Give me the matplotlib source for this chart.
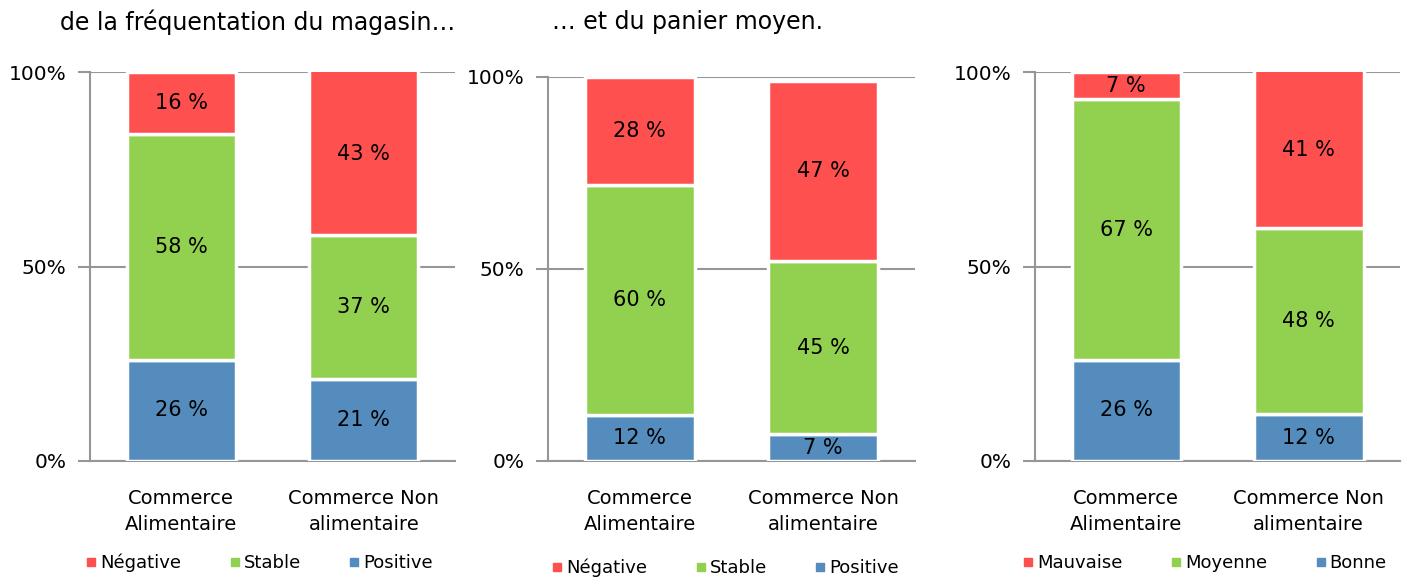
import matplotlib.pyplot as plt
import numpy as np
from matplotlib.lines import Line2D

categories = ["Commerce\nAlimentaire", "Commerce Non\nalimentaire"]

# panneau 1 : fréquentation
freq_pos = [26, 21]
freq_stable = [58, 37]
freq_neg = [16, 43]
# panneau 2 : panier moyen
panier_pos = [12, 7]
panier_stable = [60, 45]
panier_neg = [28, 47]
# panneau 3
bonne = [26, 12]
moyenne = [67, 48]
mauvaise = [7, 41]

labels_12 = ["Négative", "Stable", "Positive"]
labels_3 = ["Mauvaise", "Moyenne", "Bonne"]
titles = ["de la fréquentation du magasin…", "… et du panier moyen.", ""]

red = "#FF5050"
green = "#92D050"
blue = "#558CBE"
grey = "#969696"

W, H = 1414, 577
fig = plt.figure(figsize=(W / 100, H / 100), dpi=100)

# (left, right, top, bottom) en pixels
boxes = [(90, 455, 72, 461), (548, 915, 77, 461), (1035, 1400, 72, 461)]
data = [(freq_pos, freq_stable, freq_neg, labels_12),
        (panier_pos, panier_stable, panier_neg, labels_12),
        (bonne, moyenne, mauvaise, labels_3)]
legend_y = [563, 568, 563]
legend_x = [86, 552, 1023]

for i in range(3):
    l, r, t, b = boxes[i]
    ax = fig.add_axes([l / W, 1 - b / H, (r - l) / W, (b - t) / H])
    low, mid, high, labs = data[i]
    x = np.arange(2)
    low = np.array(low) / 100
    mid = np.array(mid) / 100
    high = np.array(high) / 100
    bw = 0.6
    b1 = ax.bar(x, low, bw, color=blue, edgecolor="white", linewidth=2.5, zorder=3)
    b2 = ax.bar(x, mid, bw, bottom=low, color=green, edgecolor="white", linewidth=2.5, zorder=3)
    b3 = ax.bar(x, high, bw, bottom=low + mid, color=red, edgecolor="white", linewidth=2.5, zorder=3)
    for vals, base in [(low, np.zeros(2)), (mid, low), (high, low + mid)]:
        for j, v in enumerate(vals):
            y0 = base[j]
            ax.text(x[j], min(y0 + v / 2, (y0 + 1) / 2), "%d %%" % round(v * 100),
                    ha="center", va="center", fontsize=15, color="black", zorder=4)
    ax.set_xlim(-0.5, 1.5)
    ax.set_ylim(0, 1)
    ax.set_yticks([0, 0.5, 1])
    ax.set_yticklabels(["0%", "50%", "100%"], fontsize=14.5)
    ax.yaxis.grid(True, color=grey, linewidth=1.5, zorder=0)
    ax.tick_params(axis="y", length=9, width=1.5, color=grey, pad=8)
    ax.set_xticks(x)
    ax.set_xticklabels(categories, fontsize=14, linespacing=1.45)
    ax.tick_params(axis="x", length=0, pad=20)
    for s in ["top", "right"]:
        ax.spines[s].set_visible(False)
    for s in ["left", "bottom"]:
        ax.spines[s].set_color(grey)
        ax.spines[s].set_linewidth(1.5)
    handles = [Line2D([], [], marker="s", linestyle="", color=c, markersize=5.5)
               for c in [red, green, blue]]
    ax.legend(handles, labs, ncol=3, loc="center left", frameon=False,
              bbox_to_anchor=((legend_x[i] - l) / (r - l), (b - legend_y[i]) / (b - t)),
              fontsize=13, handletextpad=0.2, columnspacing=2.65, handlelength=0.6,
              borderaxespad=0, borderpad=0)
    if titles[i]:
        tx = 60 if i == 0 else 552
        fig.text(tx / W, 1 - 22 / H, titles[i], fontsize=17, ha="left", va="center")

fig.savefig("out.png", dpi=100)
